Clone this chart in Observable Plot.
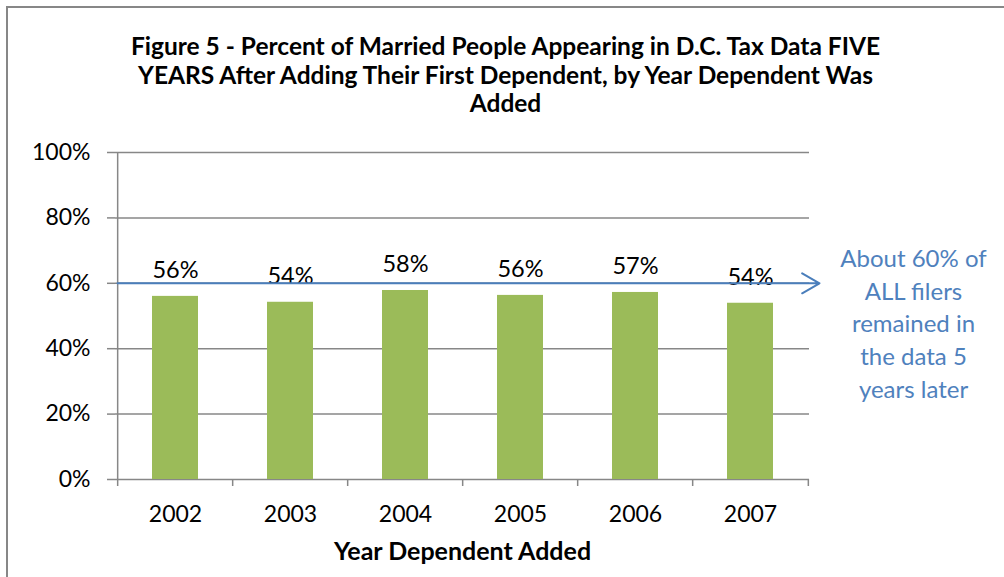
<!DOCTYPE html>
<html><head><meta charset="utf-8">
<script src="https://cdn.jsdelivr.net/npm/d3@7"></script>
<script src="https://cdn.jsdelivr.net/npm/@observablehq/plot@0.6"></script>
<style>
body{margin:0;background:#fff;}
#wrap{position:relative;width:1004px;height:577px;overflow:hidden;background:#fff;}
#border{position:absolute;left:6px;top:6px;width:1100px;height:700px;border:2px solid #878787;box-sizing:border-box;}
#chart{position:absolute;left:0;top:0;}
</style></head><body>
<div id="wrap"><div id="border"></div><div id="chart"></div></div>
<script>
const years = ["2002", "2003", "2004", "2005", "2006", "2007"];
const percents = [56.0, 54.2, 57.8, 56.3, 57.2, 53.9];
const barLabels = ["56%", "54%", "58%", "56%", "57%", "54%"];
const yTicks = [0, 20, 40, 60, 80, 100];
const yTickLabels = ["0%", "20%", "40%", "60%", "80%", "100%"];
const allFilersRate = 60;
const titleLines = ["Figure 5 - Percent of Married People Appearing in D.C. Tax Data FIVE", "YEARS After Adding Their First Dependent, by Year Dependent Was", "Added"];
const xTitle = "Year Dependent Added";
const noteLines = ["About 60% of", "ALL filers", "remained in", "the data 5", "years later"];

const data = years.map((y, i) => ({year: y, value: percents[i], label: barLabels[i]}));
const W = 1004, H = 577, mL = 115, mR = 195, mT = 152, mB = 98;
const step = (W - mL - mR) / years.length;
const font = "Lato, 'Open Sans', sans-serif";
const gridColor = "#878787";
const blue = "#4F81BD";

const plot = Plot.plot({
  width: W, height: H,
  marginLeft: mL, marginRight: mR, marginTop: mT, marginBottom: mB,
  style: {fontFamily: font, background: "transparent", overflow: "visible", color: "#000"},
  x: {domain: years, paddingInner: 0.6, paddingOuter: 0.3, align: 0.5, label: null},
  y: {domain: [0, 100], label: null},
  marks: [
    Plot.gridY(yTicks, {stroke: gridColor, strokeOpacity: 1, strokeWidth: 1.5}),
    Plot.barY(data, {x: "year", y: "value", fill: "#9BBB59"}),
    Plot.ruleX([years[0]], {x: d => d, dx: -step / 2, y1: 100, y2: 0, insetBottom: -7, stroke: gridColor, strokeWidth: 1.5}),
    Plot.ruleX(years.slice(1), {x: d => d, dx: -step / 2, y1: 0, y2: 0, insetBottom: -7, stroke: gridColor, strokeWidth: 1.5}),
    Plot.ruleX([years[years.length - 1]], {x: d => d, dx: step / 2, y1: 0, y2: 0, insetBottom: -7, stroke: gridColor, strokeWidth: 1.5}),
    Plot.axisY({ticks: yTicks, tickFormat: (d) => yTickLabels[yTicks.indexOf(d)], tickSize: 8, tickPadding: 17, fontSize: 23, stroke: gridColor, strokeWidth: 1.5, fill: "#000", label: null}),
    Plot.axisX({tickSize: 0, tickPadding: 26, fontSize: 23, fill: "#000", label: null}),
    Plot.text(data, {x: "year", y: "value", text: "label", dy: -26, lineAnchor: "middle", fontSize: 23.5, fill: "#000"}),
    Plot.arrow([{from: years[0], to: years[years.length - 1], v: allFilersRate}], {x1: "from", x2: "to", y1: "v", y2: "v", insetStart: -58, insetEnd: -69, stroke: "#4A7EBB", strokeWidth: 2, headLength: 15, headAngle: 60}),
    Plot.text([titleLines.join("\n")], {text: d => d, frameAnchor: "top", lineAnchor: "middle", dx: 43, dy: -78, lineHeight: 1.15, fontSize: 24.5, fontWeight: "bold", fill: "#000"}),
    Plot.text([xTitle], {text: d => d, frameAnchor: "bottom", lineAnchor: "middle", dy: 72, fontSize: 25, fontWeight: "bold", fill: "#000"}),
    Plot.text([noteLines.join("\n")], {text: d => d, frameAnchor: "right", textAnchor: "middle", lineAnchor: "middle", dx: 104, dy: 6, lineHeight: 1.36, fontSize: 24, fill: blue})
  ]
});
document.getElementById("chart").appendChild(plot);
</script>
</body></html>
